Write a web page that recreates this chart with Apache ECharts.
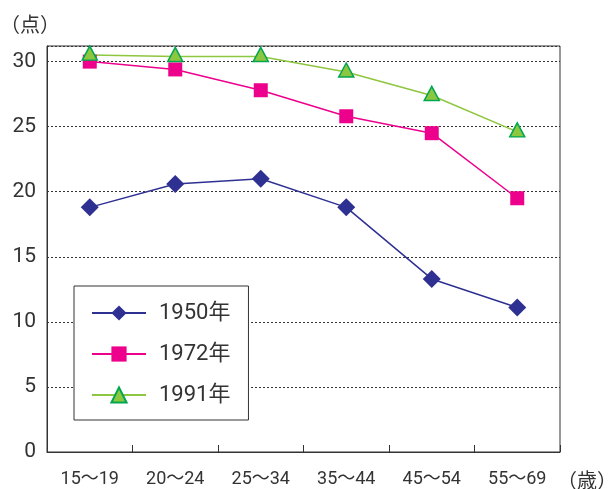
<!DOCTYPE html>
<html>
<head>
<meta charset="utf-8">
<script src="https://cdn.jsdelivr.net/npm/echarts@6/dist/echarts.min.js"></script>
<style>
html,body{margin:0;padding:0;background:#fff;}
#c{width:613px;height:489px;}
</style>
</head>
<body>
<div id="c"></div>
<script>
var categories = ['15〜19', '20〜24', '25〜34', '35〜44', '45〜54', '55〜69'];
var seriesNames = ['1950年', '1972年', '1991年'];
var values1950 = [18.8, 20.6, 21.0, 18.8, 13.3, 11.1];
var values1972 = [30.0, 29.4, 27.8, 25.8, 24.5, 19.5];
var values1991 = [30.5, 30.4, 30.4, 29.2, 27.4, 24.6];
var yTicks = [0, 5, 10, 15, 20, 25, 30];
var yUnit = '（点）';
var xUnit = '（歳）';

var FONT = "Roboto, 'Noto Sans CJK JP', sans-serif";
var CJK = "'Noto Sans CJK JP', sans-serif";
var TXT = '#333';

var chart = echarts.init(document.getElementById('c'), null, {renderer: 'canvas'});
chart.setOption({
  animation: false,
  backgroundColor: '#fff',
  textStyle: {fontFamily: FONT, color: TXT},
  title: {
    text: yUnit, left: 0, top: 14, padding: 0,
    textStyle: {fontFamily: CJK, fontSize: 20, fontWeight: 'normal', color: TXT}
  },
  grid: {left: 47, right: 53, top: 46, bottom: 37, outerBoundsMode: 'none', containLabel: false, show: true, borderColor: '#333', borderWidth: 1, backgroundColor: 'transparent'},
  legend: {
    orient: 'vertical', left: 74, top: 286,
    data: seriesNames,
    itemWidth: 54, itemHeight: 19, itemGap: 19,
    padding: [16, 18, 14, 17],
    backgroundColor: '#fff', borderColor: '#333', borderWidth: 1,
    textStyle: {fontFamily: FONT, fontSize: 22, lineHeight: 19, color: TXT, padding: [0, 0, 0, 8]}
  },
  xAxis: {
    type: 'category', data: categories, boundaryGap: true,
    axisLine: {show: true, lineStyle: {color: '#333', width: 1}},
    axisTick: {show: true, inside: true, length: 7, lineStyle: {color: '#333'}},
    axisLabel: {fontFamily: FONT, fontSize: 18, color: TXT, margin: 19, interval: 0},
    splitLine: {show: false},
    name: xUnit, nameLocation: 'end', nameGap: -3,
    nameTextStyle: {fontFamily: CJK, fontSize: 20, color: TXT, verticalAlign: 'top', align: 'left', padding: [18, 0, 0, 0]}
  },
  yAxis: {
    type: 'value', min: 0, max: 31.2, interval: 5,
    axisLine: {show: true, lineStyle: {color: '#333', width: 1}},
    axisTick: {show: false},
    axisLabel: {
      fontFamily: FONT, fontSize: 21, color: TXT, margin: 11,
      formatter: function (v) { return yTicks.indexOf(v) >= 0 ? String(v) : ''; }
    },
    splitLine: {show: true, lineStyle: {color: '#333', type: [2, 2], width: 1}}
  },
  series: [
    {
      name: seriesNames[0], type: 'line', data: values1950,
      symbol: 'diamond', symbolSize: 18,
      lineStyle: {color: '#2E3192', width: 1.5},
      itemStyle: {color: '#2E3192'}
    },
    {
      name: seriesNames[1], type: 'line', data: values1972,
      symbol: 'rect', symbolSize: 14,
      lineStyle: {color: '#EC008C', width: 1.5},
      itemStyle: {color: '#EC008C'}
    },
    {
      name: seriesNames[2], type: 'line', data: values1991,
      symbol: 'triangle', symbolSize: [15, 14], symbolOffset: [0, -2],
      lineStyle: {color: '#8DC63F', width: 1.5},
      itemStyle: {color: '#8DC63F', borderColor: '#00A651', borderWidth: 1.5}
    }
  ]
});
</script>
</body>
</html>
